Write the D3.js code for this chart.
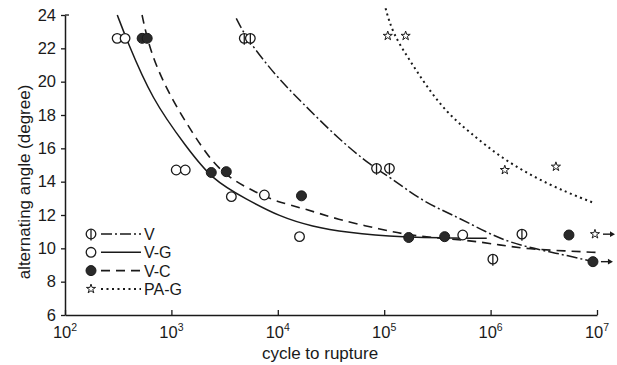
<!DOCTYPE html>
<html>
<head>
<meta charset="utf-8">
<script src="https://cdn.jsdelivr.net/npm/d3@7"></script>
<style>
  body { margin: 0; background: #fff; }
  svg text { font-family: "Liberation Sans", Arial, sans-serif; fill: #1a1a1a; }
</style>
</head>
<body>
<svg id="chart" width="617" height="365"></svg>
<script>
/* measured points: [cycles, angle] and runout flag */
var vPts  = [[4.84e3,22.6],[5.52e3,22.6],[8.47e4,14.8],[1.12e5,14.8],[1.05e6,9.35],[1.97e6,10.85]];
var vgPts = [[3.09e2,22.6],[3.67e2,22.6],[1.11e3,14.7],[1.35e3,14.7],[3.66e3,13.1],[7.48e3,13.2],[1.6e4,10.7],[5.47e5,10.8]];
var vcPts = [[5.31e2,22.6],[5.92e2,22.6],[2.37e3,14.55],[3.28e3,14.6],[1.67e4,13.15],[1.7e5,10.65],[3.7e5,10.7],[5.45e6,10.8],[9.16e6,9.2]];
var pagPts = [[1.08e5,22.75],[1.59e5,22.75],[1.36e6,14.7],[4.11e6,14.9],[9.57e6,10.85]];
var runouts = [["V-C",9.16e6],["PA-G",9.57e6]];

/* fitted curves */
var vCurve  = [[4.07e3,23.8],[5.06e3,22.6],[9.7e3,20.3],[1.6e4,18.9],[3.8e4,16.5],[7.78e4,14.9],[1.12e5,14.3],[2.3e5,12.8],[4.81e5,11.9],[9.2e5,10.95],[1.52e6,10.35],[2.9e6,9.9],[5.0e6,9.6],[9.16e6,9.2]];
var vgCurve = [[3.1e2,24.0],[3.75e2,22.6],[6.6e2,18.9],[1.38e3,16.1],[2.42e3,14.1],[5.06e3,12.95],[1.04e4,11.9],[2.12e4,11.3],[4.43e4,10.95],[1.31e5,10.65],[9.2e5,10.6]];
var vcCurve = [[5.3e2,24.0],[5.9e2,22.6],[7.2e2,20.9],[1.02e3,18.9],[1.57e3,16.95],[2.42e3,15.15],[3.74e3,14.1],[6.28e3,13.35],[9.7e3,12.8],[1.86e4,12.35],[3.57e4,11.75],[9.06e4,11.15],[2.02e5,10.7],[5.97e5,10.5],[1.22e6,10.2],[2.34e6,9.95],[5.0e6,9.85],[1.0e7,9.75]];
var pagCurve = [[1.03e5,24.4],[1.2e5,22.9],[1.73e5,21.3],[2.51e5,19.7],[3.87e5,18.15],[6.37e5,16.95],[1.22e6,15.5],[2.49e6,14.3],[5.22e6,13.35],[9.57e6,12.7]];

var xTicks = [1e2,1e3,1e4,1e5,1e6,1e7];
var yTicks = [6,8,10,12,14,16,18,20,22,24];
var legendNames = ["V","V-G","V-C","PA-G"];

var svg = d3.select("#chart");
var ink = "#1a1a1a";

var x = d3.scaleLog().domain([1e2,1e7]).range([65,597]);
var y = d3.scaleLinear().domain([6,24]).range([315,15]);

/* axes */
var xAxis = svg.append("g")
    .attr("transform","translate(0,315)")
    .call(d3.axisBottom(x).tickValues(xTicks).tickSizeInner(-5).tickSizeOuter(0).tickFormat(""));
var yAxis = svg.append("g")
    .attr("transform","translate(65,0)")
    .call(d3.axisLeft(y).tickValues(yTicks).tickSizeInner(4).tickSizeOuter(0).tickPadding(5));
[xAxis,yAxis].forEach(function(a){
    a.select(".domain").attr("stroke",ink).attr("stroke-width",1.5);
    a.selectAll(".tick line").attr("stroke",ink).attr("stroke-width",1.3);
});
yAxis.selectAll(".tick text").attr("font-size",16.5).attr("fill",ink)
    .attr("font-family","'Liberation Sans Narrow','Liberation Sans',sans-serif");
// small flick to the right at the top of the y axis
svg.append("line").attr("x1",65).attr("x2",69).attr("y1",y(24)).attr("y2",y(24))
    .attr("stroke",ink).attr("stroke-width",1.3);

xTicks.forEach(function(t){
    var lab = svg.append("text")
	.attr("x",x(t)).attr("y",338)
	.attr("text-anchor","middle")
	.attr("font-size",16.5)
	.attr("font-family","'Liberation Sans Narrow','Liberation Sans',sans-serif");
    lab.append("tspan").text("10");
    lab.append("tspan").attr("dy",-7).attr("font-size",10.5).text(Math.round(Math.log10(t)));
});

svg.append("text").attr("x",320).attr("y",359).attr("text-anchor","middle")
    .attr("font-size",17).text("cycle to rupture");
svg.append("text").attr("transform","translate(30,182) rotate(-90)")
    .attr("text-anchor","middle").attr("font-size",17).text("alternating angle  (degree)");

/* curves */
var line = d3.line()
    .x(function(d){ return x(d[0]); })
    .y(function(d){ return y(d[1]); })
    .curve(d3.curveBasis);

var curves = [
    {data:vCurve,  dash:"11,3,2,3", w:1.5},
    {data:vgCurve, dash:null,       w:1.5},
    {data:vcCurve, dash:"9,6",      w:1.6},
    {data:pagCurve,dash:"2,3.5",    w:2}
];
curves.forEach(function(c){
    svg.append("path").attr("d",line(c.data))
	.attr("fill","none").attr("stroke",ink)
	.attr("stroke-width",c.w)
	.attr("stroke-dasharray",c.dash);
});

/* markers */
function marker(kind, px, py) {
    if (kind == "V") {
	svg.append("circle").attr("cx",px).attr("cy",py).attr("r",4.8)
	    .attr("fill","#fff").attr("stroke",ink).attr("stroke-width",1.3);
	svg.append("line").attr("x1",px).attr("x2",px).attr("y1",py-4.8).attr("y2",py+6.5)
	    .attr("stroke",ink).attr("stroke-width",1.3);
    } else if (kind == "V-G") {
	svg.append("circle").attr("cx",px).attr("cy",py).attr("r",4.8)
	    .attr("fill","#fff").attr("stroke",ink).attr("stroke-width",1.3);
    } else if (kind == "V-C") {
	svg.append("circle").attr("cx",px).attr("cy",py).attr("r",5)
	    .attr("fill","#2a2a2a").attr("stroke",ink).attr("stroke-width",1);
    } else {
	svg.append("path").attr("d",d3.symbol(d3.symbolStar).size(26)())
	    .attr("transform","translate("+px+","+py+")")
	    .attr("fill","#fff").attr("stroke",ink).attr("stroke-width",1);
    }
}

var sets = [["V",vPts],["V-G",vgPts],["V-C",vcPts],["PA-G",pagPts]];
sets.forEach(function(s){
    s[1].forEach(function(d){ marker(s[0], x(d[0]), y(d[1])); });
});

/* runout arrows */
runouts.forEach(function(r){
    var pt = sets.filter(function(s){ return s[0]==r[0]; })[0][1]
	.filter(function(d){ return d[0]==r[1]; })[0];
    var px = x(pt[0]) + 8, py = y(pt[1]);
    svg.append("line").attr("x1",px).attr("x2",px+8).attr("y1",py).attr("y2",py)
	.attr("stroke",ink).attr("stroke-width",1.4);
    svg.append("path").attr("d","M"+(px+12)+","+py+"L"+(px+7)+","+(py-2.8)+"L"+(px+7)+","+(py+2.8)+"Z")
	.attr("fill",ink);
});

/* legend */
var legend = svg.append("g");
legendNames.forEach(function(name,i){
    var ly = 234 + i*18.3;
    marker(name, 91, ly);
    var c = curves[i];
    legend.append("line").attr("x1",101).attr("x2",141).attr("y1",ly).attr("y2",ly)
	.attr("stroke",ink).attr("stroke-width",c.w)
	.attr("stroke-dasharray",c.dash);
    legend.append("text").attr("x",144).attr("y",ly+6)
	.attr("font-size",16).text(name);
});
</script>
</body>
</html>
